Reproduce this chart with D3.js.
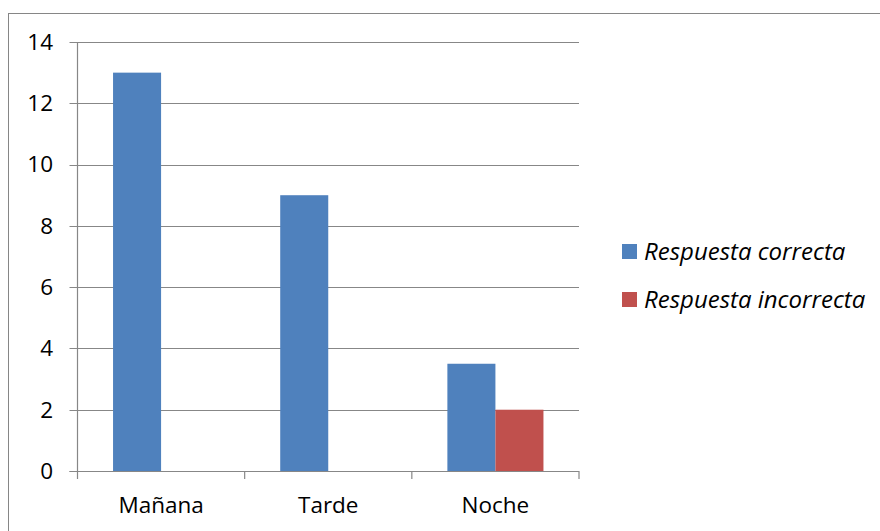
<!DOCTYPE html>
<html><head><meta charset="utf-8">
<script src="https://cdn.jsdelivr.net/npm/d3@7"></script>
<style>
html,body{margin:0;padding:0;background:#fff;}
svg{display:block;}
text{font-family:"Open Sans", sans-serif;fill:#000;}
</style></head>
<body>
<svg id="chart" width="880" height="531"></svg>
<script>
const categories = ["Mañana", "Tarde", "Noche"];
const seriesNames = ["Respuesta correcta", "Respuesta incorrecta"];
const correcta = [13, 9, 3.5];
const incorrecta = [0, 0, 2];
const yTicks = [0, 2, 4, 6, 8, 10, 12, 14];
const colors = ["#4F81BD", "#C0504D"];

(function(){
const svg = d3.select("#chart");
const pLeft = 77.5, pRight = 579, pTop = 42, pBottom = 471;
const fs = "22.5px";

// outer border
svg.append("rect").attr("x", 8.5).attr("y", 13.5).attr("width", 880).attr("height", 540)
  .attr("fill", "none").attr("stroke", "#868686").attr("stroke-width", 1);

const x = d3.scaleBand().domain(categories).range([pLeft, pRight]).paddingInner(0).paddingOuter(0);
const x1 = d3.scaleBand().domain(seriesNames).range([0, x.bandwidth()]).paddingInner(0).paddingOuter(0.74);
const y = d3.scaleLinear().domain([0, 14]).range([pBottom, pTop]);

// gridlines
svg.append("g").selectAll("line").data(yTicks).join("line")
  .attr("x1", pLeft - 8).attr("x2", pRight)
  .attr("y1", d => Math.round(y(d)) + 0.5).attr("y2", d => Math.round(y(d)) + 0.5)
  .attr("stroke", "#878787").attr("stroke-width", 1.2);

// y labels
svg.append("g").selectAll("text").data(yTicks).join("text")
  .attr("x", 53).attr("y", d => y(d)).attr("dy", "0.35em")
  .attr("text-anchor", "end").style("font-size", fs).text(d => d);

// bars
const data = categories.map((c, i) => ({c, vals: [correcta[i], incorrecta[i]]}));
const g = svg.append("g");
data.forEach(d => {
  d.vals.forEach((v, j) => {
    if (v <= 0) return;
    g.append("rect")
      .attr("x", x(d.c) + x1(seriesNames[j]))
      .attr("width", x1.bandwidth())
      .attr("y", y(v)).attr("height", y(0) - y(v))
      .attr("fill", colors[j]);
  });
});

// y axis line
svg.append("line").attr("x1", pLeft).attr("x2", pLeft).attr("y1", pTop).attr("y2", pBottom)
  .attr("stroke", "#878787").attr("stroke-width", 1.2);
// x axis line
svg.append("line").attr("x1", pLeft - 8).attr("x2", pRight).attr("y1", pBottom + 0.5).attr("y2", pBottom + 0.5)
  .attr("stroke", "#878787").attr("stroke-width", 1.2);
// x ticks at boundaries
const bounds = categories.map(c => x(c)).concat([pRight]);
svg.append("g").selectAll("line").data(bounds).join("line")
  .attr("x1", d => d).attr("x2", d => d).attr("y1", pBottom).attr("y2", pBottom + 8)
  .attr("stroke", "#878787").attr("stroke-width", 1.2);
// x labels
svg.append("g").selectAll("text").data(categories).join("text")
  .attr("x", d => x(d) + x.bandwidth() / 2).attr("y", 513)
  .attr("text-anchor", "middle").style("font-size", fs).text(d => d);

// legend
const leg = svg.append("g");
seriesNames.forEach((s, i) => {
  const ly = 251.5 + i * 48;
  leg.append("rect").attr("x", 622).attr("y", ly - 7.5).attr("width", 15).attr("height", 15).attr("fill", colors[i]);
  leg.append("text").attr("x", 644).attr("y", ly).attr("dy", "0.35em")
    .style("font-size", "24px").style("font-style", "italic").text(s);
});
})();
</script>
</body></html>
